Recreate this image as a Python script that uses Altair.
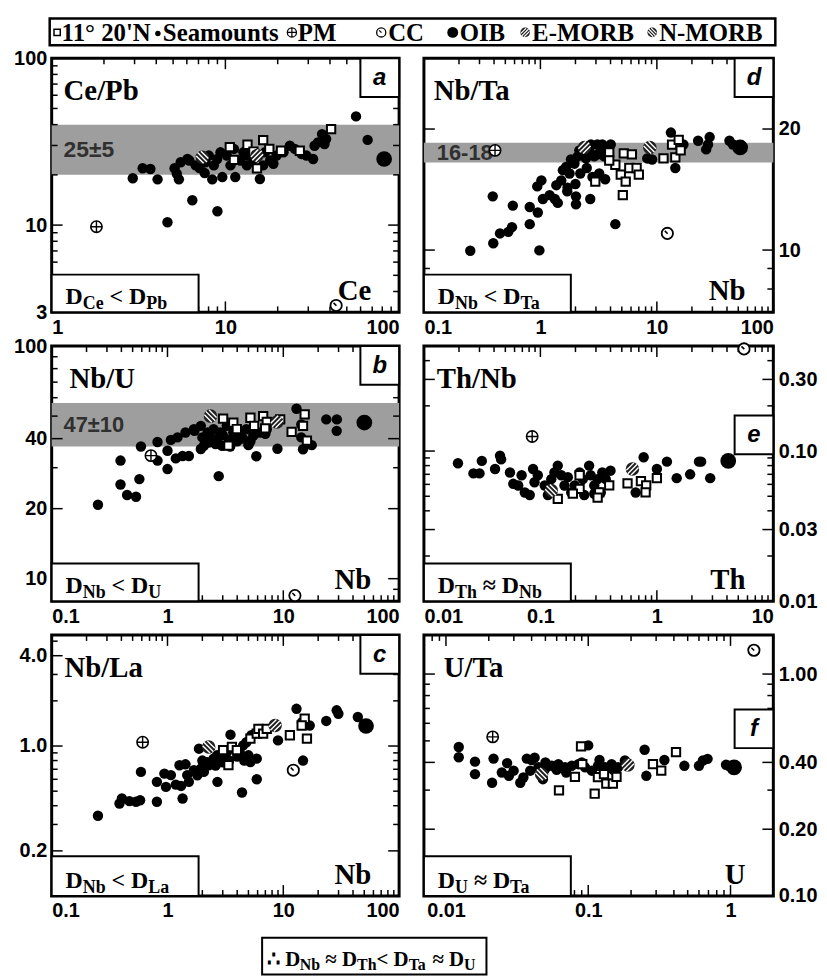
import math
import altair as alt
import pandas as pd

SERIF = "Liberation Serif"
SANS = "Liberation Sans"

# ---------------- data: (element concentration, ratio) ----------------
# groups: SM = seamounts, SQ = 11°20'N, EM = E-MORB, NM = N-MORB, PM, CC, OIB
A_SM = [(2.93, 19.1), (3.34, 21.9), (3.70, 21.7), (4.07, 18.8), (4.64, 10.4), (5.1, 21.9), (5.25, 20.3),
        (5.4, 18.8), (6.45, 14.1), (6.2, 24.4), (7.1, 22.0), (7.6, 20.5), (8.4, 18.8), (9.0, 12.1),
        (9.6, 19.4), (11.4, 19.4), (15.8, 18.9), (18.9, 23.3), (32, 24.9), (36, 35.1), (38, 32.8),
        (56.5, 44.8), (65.9, 32.4), (7.68, 23.8), (8.03, 26.1), (8.58, 22.8), (8.97, 24.9), (9.37, 27.3),
        (10.2, 26.1), (10.7, 22.8), (11.2, 28.6), (12.2, 24.4), (12.7, 27.3), (13.3, 22.8), (13.6, 26.1),
        (14.5, 24.9), (15.5, 26.1), (16.5, 22.8), (16.9, 27.3), (18.1, 24.4), (19.7, 26.1), (21.6, 27.3),
        (23.5, 29.9), (25.1, 28.6), (27.4, 26.7), (29.3, 26.1), (32.6, 29.9), (34.1, 31.3), (37.2, 30.6),
        (5.53, 23.8), (6.05, 24.9), (6.74, 22.8)]
A_SQ = [(10.6, 29.3), (11.2, 24.6), (13.4, 30.3), (14.5, 27.6), (15.2, 21.9), (16.5, 32.3), (17.9, 28.6),
        (20.9, 27.9), (26.8, 27.9), (40.6, 37.6)]
A_EM = [(15.2, 26.1)]
A_NM = [(7.36, 25.5)]
A_PM = [(1.81, 9.78)]
A_CC = [(43.4, 3.3)]
A_OIB = [(82, 24.9)]

B_SM = [(0.251, 20.8), (0.393, 32.2), (0.393, 25.4), (0.448, 22.9), (0.535, 22.5), (0.572, 26.8), (0.59, 37.0),
        (0.82, 32.2), (0.82, 38.7), (1.0, 29.6), (1.0, 35.5), (1.07, 39.5), (1.18, 32.9), (1.35, 33.7),
        (1.53, 33.7), (1.22, 40.5), (1.43, 42.5), (1.71, 43.2), (2.77, 27.6), (5.0, 37.5), (5.85, 33.6),
        (8.9, 36.2), (5.85, 42.5), (7.0, 42.0), (13.0, 53.8), (14.3, 46.0), (14.3, 40.5), (14.8, 36.0),
        (17.6, 37.5), (23.5, 48.4), (29.0, 48.4), (28.9, 43.2), (1.94, 45.4), (1.69, 43.9), (2.22, 42.5),
        (2.5, 43.9), (2.85, 42.5), (3.25, 45.4), (3.7, 42.5), (4.2, 41.1), (4.8, 43.9), (5.5, 41.1),
        (6.3, 42.5), (7.2, 43.9), (1.94, 36.1), (2.06, 37.3), (2.27, 38.5), (2.6, 37.9), (2.96, 37.3),
        (3.48, 37.0), (2.0, 40.5), (2.3, 41.0), (2.7, 40.0), (3.0, 41.5), (3.4, 39.5), (4.0, 39.0),
        (4.5, 40.0), (5.2, 39.0)]
B_SQ = [(3.02, 48.8), (3.36, 37.3), (3.7, 46.9), (3.97, 44.0), (5.2, 49.2), (5.6, 45.4), (6.7, 50.0),
        (7.2, 47.2), (6.97, 44.3), (9.4, 48.4), (11.8, 42.8), (14.8, 45.4), (15.3, 50.9), (16.0, 39.2)]
B_EM = [(8.8, 47.2)]
B_NM = [(2.35, 50.0)]
B_PM = [(0.72, 33.8)]
B_CC = [(12.6, 8.46)]
B_OIB = [(50.1, 46.9)]

C_SM = [(0.251, 0.343), (0.385, 0.414), (0.404, 0.447), (0.469, 0.429), (0.535, 0.425), (0.58, 0.435),
        (0.59, 0.672), (0.81, 0.425), (0.81, 0.577), (0.94, 0.655), (0.97, 0.534), (1.07, 0.64),
        (1.27, 0.744), (1.18, 0.553), (1.31, 0.542), (1.35, 0.447), (1.43, 0.755), (1.48, 0.64),
        (1.87, 0.96), (2.7, 0.577), (3.5, 1.19), (4.4, 0.49), (5.9, 0.824), (5.9, 0.60), (9.0, 1.09),
        (13.0, 1.77), (14.8, 0.80), (14.5, 1.44), (16.9, 1.37), (23.5, 1.47), (28.9, 1.73), (29.9, 1.64),
        (44, 1.56), (1.53, 0.577), (1.69, 0.689), (1.81, 0.638), (1.94, 0.707), (2.06, 0.672),
        (2.27, 0.744), (2.5, 0.824), (2.68, 0.867), (2.96, 0.824), (3.25, 0.912), (3.7, 0.96),
        (4.2, 0.912), (4.5, 1.01), (4.8, 1.06), (5.0, 0.867), (5.2, 0.783), (5.3, 1.18), (5.7, 1.21),
        (6.3, 1.30), (2.2, 0.78), (2.6, 0.74), (3.0, 0.78), (3.4, 0.80), (4.0, 0.85), (4.6, 0.80),
        (2.0, 0.80)]
C_SQ = [(3.02, 0.94), (3.36, 0.745), (3.6, 0.985), (3.97, 0.94), (5.2, 1.12), (5.9, 1.21), (6.1, 1.30),
        (6.7, 1.21), (7.2, 1.30), (11.4, 1.18), (15.3, 1.52), (16.0, 1.12), (14.4, 1.37)]
C_EM = [(8.5, 1.37)]
C_NM = [(2.27, 0.985)]
C_PM = [(0.61, 1.06)]
C_CC = [(12.2, 0.69)]
C_OIB = [(51.8, 1.36)]

D_SM = [(0.25, 9.96), (0.394, 10.4), (0.39, 13.6), (0.45, 11.0), (0.53, 11.1), (0.57, 11.4), (0.58, 12.9),
        (0.81, 11.6), (0.81, 12.8), (0.95, 12.4), (0.98, 9.98), (0.94, 14.4), (1.02, 14.9), (1.05, 13.4),
        (1.2, 13.7), (1.33, 13.4), (1.41, 13.1), (1.71, 14.3), (2.02, 13.0), (2.02, 13.6), (2.68, 13.4),
        (3.1, 17.3), (3.4, 18.3), (4.4, 11.6), (8.27, 16.9), (9.1, 16.8), (13.2, 19.6), (14.4, 16.0),
        (16.9, 18.3), (22.6, 18.7), (28.4, 19.1), (27.5, 18.3), (26.5, 17.8), (42, 18.7), (45, 18.3),
        (1.37, 14.5), (1.51, 14.9), (1.56, 15.8), (1.66, 16.1), (1.78, 15.5), (1.83, 16.8), (1.96, 16.4),
        (2.09, 17.1), (2.16, 17.7), (2.31, 17.4), (2.38, 18.0), (2.46, 16.9), (2.63, 17.7), (2.72, 18.3),
        (2.9, 17.1), (3.09, 18.3), (3.3, 18.0), (3.53, 17.1), (3.77, 17.7), (4.02, 18.3), (2.2, 15.5),
        (2.5, 16.0), (2.8, 15.2), (3.2, 15.5), (3.6, 15.0), (1.7, 14.0), (2.0, 14.6)]
D_SQ = [(3.9, 17.5), (5.2, 17.4), (6.1, 17.3), (4.4, 16.3), (4.9, 15.4), (5.8, 16.0), (6.7, 16.0), (7.0, 15.4),
        (5.4, 14.8), (5.1, 13.7), (2.96, 14.8), (3.9, 16.7), (11.4, 16.9), (13.5, 18.3), (14.4, 17.0),
        (15.4, 18.8), (16.0, 17.7)]
D_EM = [(2.39, 18.0)]
D_NM = [(8.7, 18.0)]
D_PM = [(0.408, 17.7)]
D_CC = [(12.3, 11.0)]
D_OIB = [(51.9, 18.0)]

E_SM = [(0.0196, 0.083), (0.0266, 0.071), (0.030, 0.071), (0.0314, 0.086), (0.0408, 0.076), (0.045, 0.093),
        (0.046, 0.088), (0.0548, 0.072), (0.0585, 0.0605), (0.0645, 0.059), (0.069, 0.069), (0.0735, 0.053),
        (0.081, 0.051), (0.0865, 0.076), (0.089, 0.062), (0.095, 0.069), (0.109, 0.059), (0.116, 0.051),
        (0.124, 0.065), (0.132, 0.072), (0.141, 0.080), (0.151, 0.069), (0.161, 0.059), (0.172, 0.067),
        (0.184, 0.053), (0.197, 0.059), (0.217, 0.072), (0.231, 0.065), (0.238, 0.051), (0.262, 0.080),
        (0.27, 0.069), (0.29, 0.059), (0.31, 0.065), (0.33, 0.053), (0.34, 0.072), (0.364, 0.065),
        (0.40, 0.074), (0.29, 0.052), (0.658, 0.053), (0.77, 0.091), (1.0, 0.076), (1.22, 0.085),
        (1.48, 0.066), (1.93, 0.070), (2.3, 0.085), (2.4, 0.085), (2.87, 0.066)]
E_SQ = [(0.217, 0.069), (0.217, 0.056), (0.19, 0.052), (0.32, 0.053), (0.39, 0.059), (0.56, 0.061),
        (0.73, 0.063), (0.81, 0.059), (0.8, 0.053), (1.0, 0.066), (0.141, 0.048), (0.31, 0.049)]
E_EM = [(0.617, 0.076)]
E_NM = [(0.124, 0.0546)]
E_PM = [(0.085, 0.125)]
E_CC = [(5.6, 0.479)]
E_OIB = [(4.1, 0.086)]

F_SM = [(0.0123, 0.469), (0.0123, 0.422), (0.016, 0.403), (0.016, 0.354), (0.0211, 0.324), (0.0216, 0.416),
        (0.0269, 0.397), (0.0247, 0.36), (0.0277, 0.348), (0.0299, 0.367), (0.0333, 0.324), (0.035, 0.342),
        (0.037, 0.416), (0.040, 0.41), (0.042, 0.42), (0.048, 0.336), (0.1, 0.477), (0.249, 0.456),
        (0.256, 0.348), (0.343, 0.41), (0.474, 0.386), (0.6, 0.386), (0.64, 0.408), (0.69, 0.415),
        (0.93, 0.39), (0.97, 0.386), (0.0391, 0.367), (0.0446, 0.38), (0.0497, 0.373), (0.0554, 0.386),
        (0.0617, 0.393), (0.0686, 0.38), (0.0765, 0.386), (0.0852, 0.393), (0.095, 0.38), (0.106, 0.367),
        (0.117, 0.386), (0.131, 0.38), (0.146, 0.393), (0.162, 0.38), (0.181, 0.408), (0.05, 0.40),
        (0.07, 0.36), (0.09, 0.40), (0.12, 0.41), (0.15, 0.37), (0.06, 0.37)]
F_SQ = [(0.089, 0.472), (0.0623, 0.299), (0.0806, 0.344), (0.0908, 0.393), (0.111, 0.289), (0.117, 0.343),
        (0.129, 0.354), (0.134, 0.321), (0.149, 0.321), (0.158, 0.344), (0.285, 0.393), (0.326, 0.367),
        (0.414, 0.445)]
F_EM = [(0.19, 0.389)]
F_NM = [(0.047, 0.354)]
F_PM = [(0.0213, 0.521)]
F_CC = [(1.46, 1.28)]
F_OIB = [(1.06, 0.38)]

# ---------------- helpers ----------------
CROSS = "M-1,0L1,0M0,-1L0,1"
HOOK = "M0.05,0.05L-0.45,-0.45"
STRIPE_F = "M-0.7,0.7L0.7,-0.7M-0.9,0.2L0.2,-0.9M-0.2,0.9L0.9,-0.2"
STRIPE_B = "M-0.7,-0.7L0.7,0.7M-0.9,-0.2L0.2,0.9M-0.2,-0.9L0.9,0.2"

TW = {' ': 250, '<': 570, '≈': 549, '∴': 600, 'D': 722, 'C': 722, 'e': 444, 'P': 611, 'b': 556,
      'N': 722, 'T': 667, 'a': 500, 'U': 722, 'h': 556, 'L': 667}


def one():
    return pd.DataFrame({'k': [0]})


def T(text, x, y, size, font=SERIF, align='left', baseline='alphabetic', style='normal', color='black'):
    return alt.Chart(pd.DataFrame({'t': [text]})).mark_text(
        align=align, baseline=baseline, font=font, fontSize=size, fontWeight='bold',
        fontStyle=style, color=color).encode(x=alt.value(x), y=alt.value(y), text='t:N')


def BOX(x1, y1, x2, y2, sw=2):
    return alt.Chart(one()).mark_rect(fill='white', stroke='black', strokeWidth=sw).encode(
        x=alt.value(x1), x2=alt.value(x2), y=alt.value(y1), y2=alt.value(y2))


def SYM(x, y, shape, size, fill=None, stroke='black', sw=1.5):
    kw = dict(shape=shape, size=size, opacity=1, strokeWidth=sw)
    if fill is None:
        kw.update(filled=False, color=stroke)
    else:
        kw.update(filled=True, fill=fill, stroke=stroke)
    return alt.Chart(one()).mark_point(**kw).encode(x=alt.value(x), y=alt.value(y))


def subscripted(segs, x0, ybase, fm, fs, drop=5):
    out = []
    x = x0
    for s, kind in segs:
        size = fm if kind == 'm' else fs
        yy = ybase if kind == 'm' else ybase + drop
        lead = len(s) - len(s.lstrip(' '))
        x += lead * TW[' '] * size / 1000
        core = s.strip(' ')
        out.append(T(core, x, yy, size))
        x += sum(TW.get(c, 560) for c in core) * size / 1000
        trail = len(s) - len(s.rstrip(' '))
        x += trail * TW[' '] * size / 1000
    return out


def minor_ticks(lo, hi, majors):
    out = []
    e = math.floor(math.log10(lo))
    while 10 ** e <= hi * 1.0001:
        for m in range(1, 10):
            v = round(m * 10 ** e, 10)
            if lo * 0.9999 <= v <= hi * 1.0001 and all(abs(v - mj) > 1e-9 for mj in majors):
                out.append(v)
        e += 1
    return out


def panel(cfg, groups, extra=()):
    w, h = cfg['w'], cfg['h']
    xs = alt.Scale(type='log', domain=cfg['xdom'], nice=False)
    ys = alt.Scale(type='log', domain=cfg['ydom'], nice=False)
    xaxis = alt.Axis(values=cfg['xlab'], format='~g', title=None, labelFlush=True)
    yaxis = alt.Axis(values=cfg['ylab'], format=cfg['yfmt'], title=None, orient=cfg['orient'],
                     labelFlush=False)

    def X(f):
        return alt.X(f, scale=xs, axis=xaxis)

    def Y(f):
        return alt.Y(f, scale=ys, axis=yaxis)

    L = []
    if 'band' in cfg:
        lo, hi, lab = cfg['band']
        bd = pd.DataFrame({'lo': [lo], 'hi': [hi], 'mid': [math.sqrt(lo * hi)], 't': [lab]})
        L.append(alt.Chart(bd).mark_rect(color='#9e9e9e').encode(
            y=Y('lo:Q'), y2='hi:Q', x=alt.value(0), x2=alt.value(w)))
        L.append(alt.Chart(bd).mark_text(align='left', baseline='middle', font=SANS, fontWeight='bold',
                                         fontSize=cfg.get('bandfs', 22), color='#303030').encode(
            y=Y('mid:Q'), x=alt.value(cfg.get('bandx', 12)), text='t:N'))
    # inward ticks on all four sides
    xmaj = pd.DataFrame({'v': cfg['xlab']})
    xmin = pd.DataFrame({'v': minor_ticks(cfg['xdom'][0], cfg['xdom'][1], cfg['xlab'])})
    ymaj = pd.DataFrame({'v': cfg['ylab']})
    ymin = pd.DataFrame({'v': minor_ticks(cfg['ydom'][0], cfg['ydom'][1], cfg['ylab'])})
    for df, ln in [(xmaj, 11), (xmin, 6)]:
        base = alt.Chart(df).mark_rule(color='black', strokeWidth=1.5)
        L.append(base.encode(x=X('v:Q'), y=alt.value(0), y2=alt.value(ln)))
        L.append(base.encode(x=X('v:Q'), y=alt.value(h), y2=alt.value(h - ln)))
    for df, ln in [(ymaj, 11), (ymin, 6)]:
        base = alt.Chart(df).mark_rule(color='black', strokeWidth=1.5)
        L.append(base.encode(y=Y('v:Q'), x=alt.value(0), x2=alt.value(ln)))
        L.append(base.encode(y=Y('v:Q'), x=alt.value(w), x2=alt.value(w - ln)))
    pts = pd.DataFrame([(x, y, g) for g, arr in groups.items() for x, y in arr], columns=['x', 'y', 'g'])

    def P(g, **mk):
        return alt.Chart(pts).transform_filter(alt.datum.g == g).mark_point(opacity=1, **mk).encode(
            x=X('x:Q'), y=Y('y:Q'))

    L.append(P('sm', shape='circle', filled=True, color='black', size=110))
    L.append(P('sq', shape='square', filled=True, fill='white', stroke='black', strokeWidth=2, size=70))
    L.append(P('em', shape='circle', filled=True, color='#202020', size=185))
    L.append(P('em', shape=STRIPE_F, filled=False, color='white', strokeWidth=1.4, size=185))
    L.append(P('nm', shape='circle', filled=True, color='#202020', size=185))
    L.append(P('nm', shape=STRIPE_B, filled=False, color='white', strokeWidth=1.4, size=185))
    L.append(P('pm', shape='circle', filled=True, fill='white', stroke='black', strokeWidth=1.6, size=130))
    L.append(P('pm', shape=CROSS, filled=False, color='black', strokeWidth=1.4, size=130))
    L.append(P('cc', shape='circle', filled=True, fill='white', stroke='black', strokeWidth=1.8, size=130))
    L.append(P('cc', shape=HOOK, filled=False, color='black', strokeWidth=1.6, size=130))
    L.append(P('oib', shape='circle', filled=True, color='black', size=250))
    # annotations
    L.append(T(cfg['title'], cfg['tx'], 42, 29))
    L.append(T(cfg['elem'], w - 28, h - 12, 29, align='right'))
    bh = cfg.get('bh', 38)
    L.append(BOX(0, h - bh, 148, h))
    L += subscripted(cfg['dsegs'], 14, h - 8, 24, 18)
    ly = cfg.get('ly', 0)
    L.append(BOX(w - 39, ly, w, ly + 39))
    L.append(T(cfg['letter'], w - 19.5, ly + 20, 24, font=SANS, align='center', baseline='middle',
               style='italic'))
    L += list(extra)
    return alt.layer(*L).properties(width=w, height=h,
                                    view=alt.ViewBackground(stroke='black', strokeWidth=3))


CFG = {
    'a': dict(w=350, h=256, xdom=[1, 100], ydom=[3, 100], xlab=[1, 10, 100], ylab=[3, 10, 100], yfmt='~g',
              orient='left', band=(20, 40, '25±5'), bandfs=23, title='Ce/Pb', tx=12, elem='Ce', letter='a',
              dsegs=[('D', 'm'), ('Ce', 's'), (' < D', 'm'), ('Pb', 's')]),
    'b': dict(w=350, h=257, xdom=[0.1, 100], ydom=[8, 100], xlab=[0.1, 1, 10, 100], ylab=[10, 20, 40, 100],
              yfmt='~g', orient='left', band=(37, 57, '47±10'), bandfs=22, title='Nb/U', tx=18, elem='Nb',
              letter='b', dsegs=[('D', 'm'), ('Nb', 's'), (' < D', 'm'), ('U', 's')]),
    'c': dict(w=350, h=263, xdom=[0.1, 100], ydom=[0.1, 5.5], xlab=[0.1, 1, 10, 100], ylab=[0.2, 1.0, 4.0],
              yfmt='.1f', orient='left', title='Nb/La', tx=13, elem='Nb', letter='c', bh=40,
              dsegs=[('D', 'm'), ('Nb', 's'), (' < D', 'm'), ('La', 's')]),
    'd': dict(w=352, h=256, xdom=[0.1, 100], ydom=[7, 30], xlab=[0.1, 1, 10, 100], ylab=[10, 20], yfmt='~g',
              orient='right', band=(16.5, 18.5, '16-18'), bandfs=22, bandx=13, title='Nb/Ta', tx=10,
              elem='Nb', letter='d', dsegs=[('D', 'm'), ('Nb', 's'), (' < D', 'm'), ('Ta', 's')]),
    'e': dict(w=352, h=257, xdom=[0.01, 10], ydom=[0.01, 0.5], xlab=[0.01, 0.1, 1, 10],
              ylab=[0.01, 0.03, 0.1, 0.3], yfmt='.2f', orient='right', title='Th/Nb', tx=13, elem='Th',
              letter='e', ly=70, dsegs=[('D', 'm'), ('Th', 's'), (' ≈ D', 'm'), ('Nb', 's')]),
    'f': dict(w=352, h=263, xdom=[0.007, 2], ydom=[0.1, 1.5], xlab=[0.01, 0.1, 1], ylab=[0.1, 0.2, 0.4, 1.0],
              yfmt='.2f', orient='right', title='U/Ta', tx=20, elem='U', letter='f', ly=75, bh=40,
              dsegs=[('D', 'm'), ('U', 's'), (' ≈ D', 'm'), ('Ta', 's')]),
}


def G(sm, sq, em, nm, pm, cc, oib):
    return dict(sm=sm, sq=sq, em=em, nm=nm, pm=pm, cc=cc, oib=oib)


# legend box (drawn above panel a, spanning both columns)
LY = -40
LEG = [BOX(-2, LY, 729, LY + 27, sw=2.5),
       SYM(5.5, LY + 14, 'square', 40, fill='white', sw=1.5),
       T("11° 20'N", 10, LY + 23, 25),
       SYM(107, LY + 15, 'circle', 30, fill='black', sw=0),
       T('Seamounts', 112, LY + 23, 25),
       SYM(242, LY + 14, 'circle', 85, fill='white', sw=1.3),
       SYM(242, LY + 14, CROSS, 85, sw=1.2),
       T('PM', 248, LY + 23, 25),
       SYM(332, LY + 14, 'circle', 85, fill='white', sw=1.3),
       SYM(332, LY + 14, HOOK, 85, sw=1.2),
       T('CC', 339, LY + 23, 25),
       SYM(404, LY + 14, 'circle', 120, fill='black', sw=0),
       T('OIB', 411, LY + 23, 25),
       SYM(477, LY + 14, 'circle', 95, fill='#202020', sw=0),
       SYM(477, LY + 14, STRIPE_F, 95, stroke='white', sw=1.2),
       T('E-MORB', 484, LY + 23, 25),
       SYM(605, LY + 14, 'circle', 95, fill='#202020', sw=0),
       SYM(605, LY + 14, STRIPE_B, 95, stroke='white', sw=1.2),
       T('N-MORB', 612, LY + 23, 25)]

# footer box (drawn below panel c)
FY = 263 + 42
FOOT = [BOX(212, FY, 438, FY + 37, sw=2)]
FOOT += subscripted([('∴ D', 'm'), ('Nb', 's'), (' ≈ D', 'm'), ('Th', 's'), ('< D', 'm'), ('Ta', 's'),
                     (' ≈ D', 'm'), ('U', 's')], 217, FY + 28, 21, 16)

pa = panel(CFG['a'], G(A_SM, A_SQ, A_EM, A_NM, A_PM, A_CC, A_OIB), extra=LEG)
pb = panel(CFG['b'], G(B_SM, B_SQ, B_EM, B_NM, B_PM, B_CC, B_OIB))
pc = panel(CFG['c'], G(C_SM, C_SQ, C_EM, C_NM, C_PM, C_CC, C_OIB), extra=FOOT)
pd_ = panel(CFG['d'], G(D_SM, D_SQ, D_EM, D_NM, D_PM, D_CC, D_OIB))
pe = panel(CFG['e'], G(E_SM, E_SQ, E_EM, E_NM, E_PM, E_CC, E_OIB))
pf = panel(CFG['f'], G(F_SM, F_SQ, F_EM, F_NM, F_PM, F_CC, F_OIB))

chart = alt.concat(pa, pd_, pb, pe, pc, pf, columns=2, spacing={'row': 34, 'column': 25},
                   bounds='flush').properties(
    padding={'left': 4, 'top': 4, 'right': 0, 'bottom': 0}
).configure_view(strokeWidth=0).configure_axis(
    labelFont=SANS, labelFontWeight='bold', labelFontSize=20, labelColor='black', ticks=False,
    domain=False, grid=False, labelPadding=5, labelOverlap=False
)

chart.save("out.html", embed_options={"renderer": "svg", "actions": False})
